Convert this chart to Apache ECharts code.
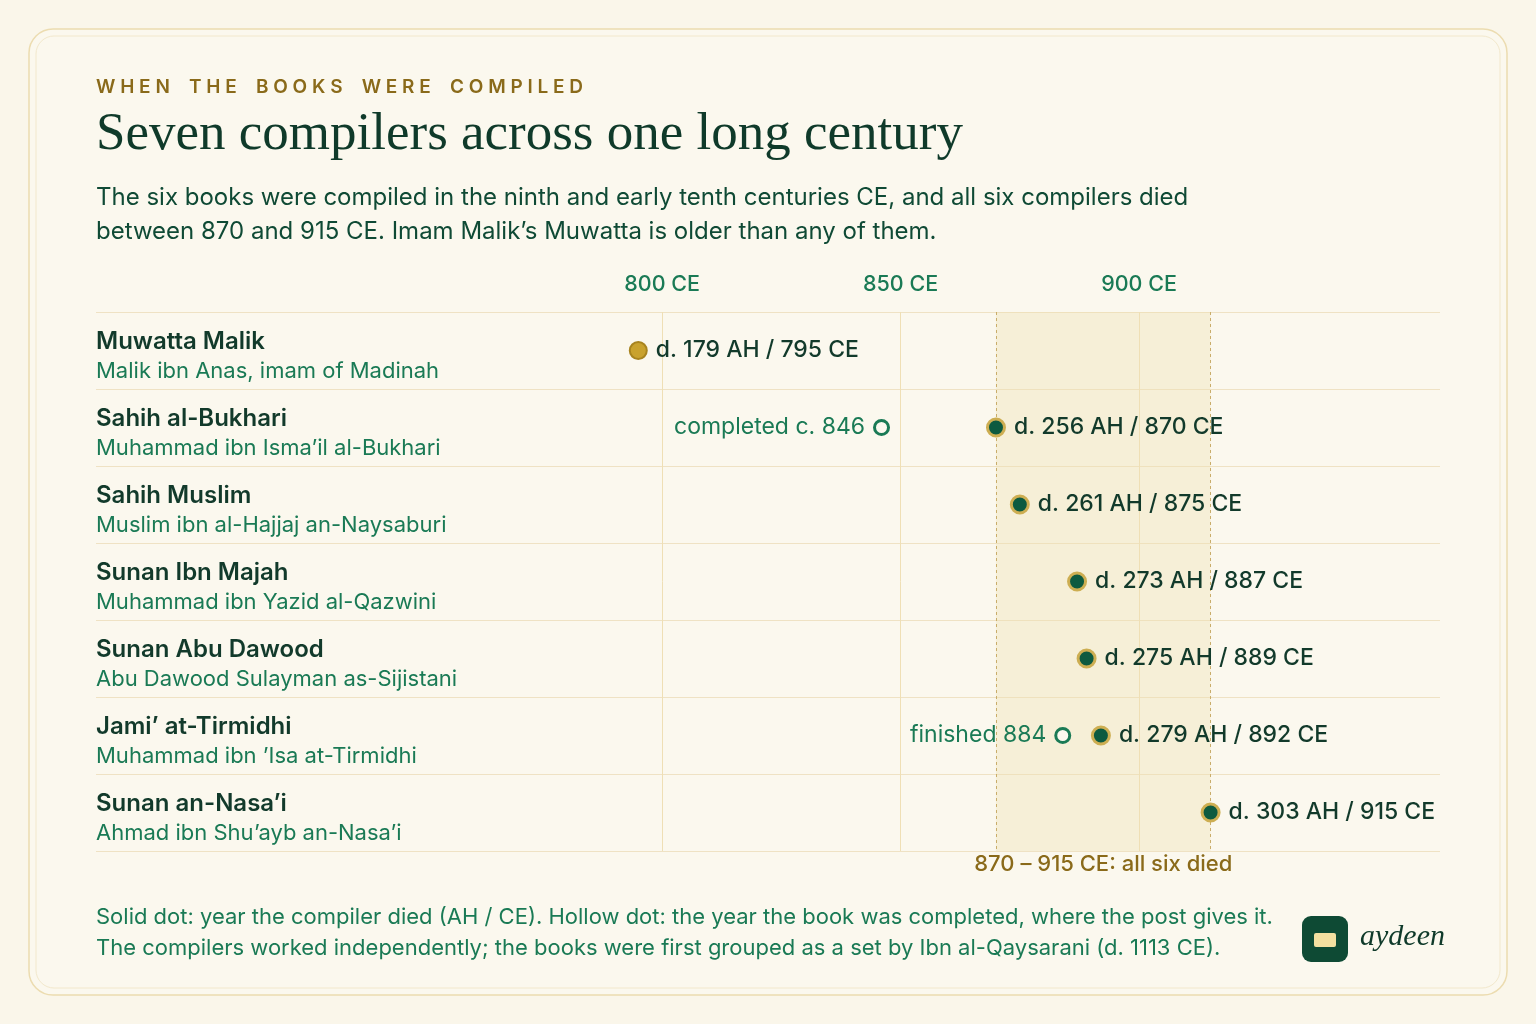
<!DOCTYPE html>
<html><head><meta charset="utf-8">
<script src="https://cdn.jsdelivr.net/npm/echarts@6/dist/echarts.min.js"></script>
<style>html,body{margin:0;padding:0;background:#faf6ea;}#c{width:1536px;height:1024px;}</style>
</head><body><div id="c"></div>
<script>
const books = ["Muwatta Malik","Sahih al-Bukhari","Sahih Muslim","Sunan Ibn Majah","Sunan Abu Dawood","Jami’ at-Tirmidhi","Sunan an-Nasa’i"];
const compilers = ["Malik ibn Anas, imam of Madinah","Muhammad ibn Isma’il al-Bukhari","Muslim ibn al-Hajjaj an-Naysaburi","Muhammad ibn Yazid al-Qazwini","Abu Dawood Sulayman as-Sijistani","Muhammad ibn ’Isa at-Tirmidhi","Ahmad ibn Shu’ayb an-Nasa’i"];
const deathCE = [795,870,875,887,889,892,915];
const deathAH = [179,256,261,273,275,279,303];
const completedRows = [1,5];
const completedYears = [846,884];
const completedLabels = ["completed c. 846","finished 884"];
const tickYears = [800,850,900];
const bandYears = [870,915];

const ch = echarts.init(document.getElementById('c'));
const dark='#123a2b', green='#1a7a55', gold='#8a6a1a';
const deathData = deathCE.map((y,i)=>({value:[y,books[i]],
  itemStyle: i===0?{color:'#c9a22e',borderColor:'#a8841f',borderWidth:2,opacity:1}:{color:'#0d5a40',borderColor:'#cdae52',borderWidth:3,opacity:1}}));
ch.setOption({
  backgroundColor:'#faf6ea',
  textStyle:{fontFamily:'Inter'},
  graphic:[
    {type:'rect',shape:{x:29,y:29,width:1478,height:966,r:24},style:{fill:'#fbf8ee',stroke:'#ecdcb0',lineWidth:1.5},z:-10},
    {type:'rect',shape:{x:36,y:36,width:1464,height:952,r:18},style:{fill:'none',stroke:'#f2e8cc',lineWidth:1},z:-9},
    {type:'text',left:96,top:78,style:{text:'W H E N    T H E    B O O K S    W E R E    C O M P I L E D',font:'600 19px Inter',fill:gold}},
    {type:'text',left:96,top:109,style:{text:'Seven compilers across one long century',font:'500 53px "Liberation Serif"',fill:'#0f3a2a'}},
    {type:'text',left:96,top:181,style:{text:'The six books were compiled in the ninth and early tenth centuries CE, and all six compilers died\nbetween 870 and 915 CE. Imam Malik’s Muwatta is older than any of them.',font:'24px Inter',fill:'#0f4a35',lineHeight:34}},
    {type:'text',left:96,top:902,style:{text:'Solid dot: year the compiler died (AH / CE). Hollow dot: the year the book was completed, where the post gives it.\nThe compilers worked independently; the books were first grouped as a set by Ibn al-Qaysarani (d. 1113 CE).',font:'22px Inter',fill:green,lineHeight:31}},
    {type:'rect',shape:{x:1302,y:916,width:46,height:46,r:9},style:{fill:'#0e4a34'}},
    {type:'rect',shape:{x:1314,y:933,width:22,height:14,r:2},style:{fill:'#f3dfa0'}},
    {type:'text',left:1360,top:922,style:{text:'aydeen',font:'italic 30px "Liberation Serif"',fill:'#0f3a2a'}}
  ],
  grid:{left:96,right:96,top:312,bottom:173},
  xAxis:{type:'value',position:'top',min:681.3,max:963.1,
    axisLine:{show:false},axisTick:{show:false},splitLine:{show:false},
    axisLabel:{customValues:tickYears,formatter:v=>v+' CE',color:green,fontSize:21.5,fontWeight:500,margin:16}},
  yAxis:{type:'category',inverse:true,data:books,
    axisLine:{show:false},axisTick:{show:false},
    splitLine:{show:true,lineStyle:{color:'#efe2c4',width:1}},
    axisLabel:{inside:true,margin:0,align:'left',padding:[12,0,0,0],
      formatter:(v,i)=>'{a|'+v+'}\n{b|'+compilers[i]+'}',
      rich:{a:{fontSize:24,fontWeight:600,color:dark,lineHeight:30,fontFamily:'Inter'},
            b:{fontSize:22,color:green,lineHeight:30,fontFamily:'Inter'}}}},
  series:[
    {type:'scatter',symbolSize:17,data:deathData,z:5,
      label:{show:true,position:'right',distance:8,color:dark,fontSize:23,fontWeight:500,
        formatter:p=>'d. '+deathAH[p.dataIndex]+' AH / '+deathCE[p.dataIndex]+' CE'},
      markArea:{silent:true,itemStyle:{color:'rgba(238,224,180,0.38)'},
        label:{show:true,position:'bottom',distance:2,color:gold,fontSize:22,fontWeight:500,formatter:'870 – 915 CE: all six died'},
        data:[[{xAxis:bandYears[0]},{xAxis:bandYears[1]}]]},
      markLine:{silent:true,symbol:'none',label:{show:false},
        data:tickYears.map(y=>({xAxis:y,lineStyle:{color:'#efdfb5',width:1,type:'solid'}}))
          .concat(bandYears.map(y=>({xAxis:y,lineStyle:{color:'#c9ad6a',width:1,type:[3,3]}})))}},
    {type:'scatter',symbolSize:14,z:5,
      data:completedYears.map((y,i)=>[y,books[completedRows[i]]]),
      itemStyle:{color:'#fbf8ee',borderColor:green,borderWidth:3,opacity:1},
      label:{show:true,position:'left',distance:8,color:green,fontSize:23,
        formatter:p=>completedLabels[p.dataIndex]}}
  ]
});
</script></body></html>
